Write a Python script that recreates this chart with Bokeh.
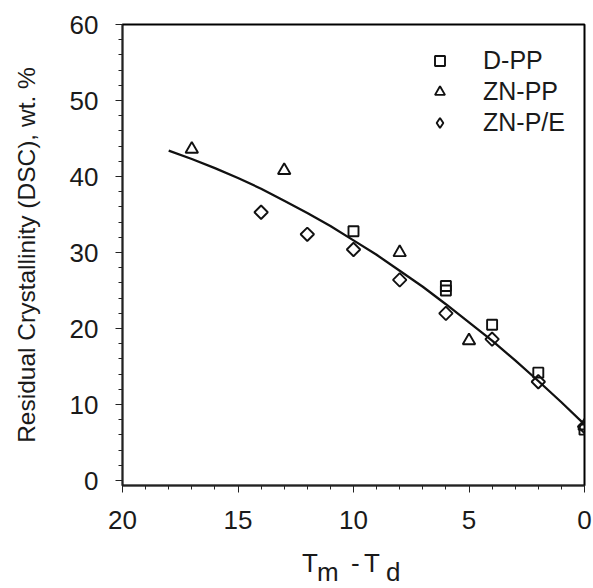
import math
from bokeh.plotting import figure
from bokeh.layouts import column
from bokeh.models import Range1d, FixedTicker, Legend, LegendItem, Div
from bokeh.embed import file_html
from bokeh.resources import INLINE

# ---- data ----
dpp_x = [10, 6, 6, 4, 2, 0]
dpp_y = [32.8, 25.6, 25.0, 20.5, 14.2, 6.7]

znpp_x = [17, 13, 8, 5, 0]
znpp_y = [43.6, 40.8, 30.0, 18.4, 7.2]

znpe_x = [14, 12, 10, 8, 6, 4, 2, 0]
znpe_y = [35.3, 32.4, 30.4, 26.4, 22.0, 18.6, 13.0, 7.1]

fit_x = [18, 17, 16, 15, 14, 13, 12, 11, 10, 9, 8, 7, 6, 5, 4, 3, 2, 1, 0]
fit_y = [43.4, 42.3, 41.1, 39.8, 38.4, 36.8, 35.2, 33.5, 31.6, 29.7, 27.6,
         25.5, 23.2, 20.8, 18.4, 15.8, 13.1, 10.3, 7.4]

x_major = [0, 5, 10, 15, 20]
x_minor = [v for v in range(0, 21) if v % 5 != 0]
y_major = [0, 10, 20, 30, 40, 50, 60]
y_minor = [v for v in range(0, 61, 2) if v % 10 != 0]

series_names = ["D-PP", "ZN-PP", "ZN-P/E"]
y_title = "Residual Crystallinity (DSC), wt. %"
x_title_parts = ["T", "m", "-", "T", "d"]

FONT = "Liberation Sans"
TXT = "#1a1a1a"
INK = "#111111"

p = figure(width=593, height=548, output_backend="svg", toolbar_location=None,
           x_range=Range1d(20, 0), y_range=Range1d(-0.65, 60),
           min_border_left=122, min_border_right=9, min_border_top=24,
           min_border_bottom=63)
p.background_fill_color = "white"
p.border_fill_color = "white"
p.outline_line_color = "black"
p.outline_line_width = 2
p.xgrid.visible = False
p.ygrid.visible = False

for ax in (p.xaxis[0], p.yaxis[0]):
    ax.axis_line_color = "#222222"
    ax.axis_line_width = 1.3
    ax.major_tick_line_color = "#222222"
    ax.minor_tick_line_color = "#222222"
    ax.major_tick_in = 0
    ax.major_tick_out = 7
    ax.minor_tick_in = 0
    ax.minor_tick_out = 4
    ax.major_label_text_font = FONT
    ax.major_label_text_font_size = "26px"
    ax.major_label_text_color = TXT

p.xaxis[0].ticker = FixedTicker(ticks=x_major, minor_ticks=x_minor)
p.yaxis[0].ticker = FixedTicker(ticks=y_major, minor_ticks=y_minor)
p.xaxis[0].major_label_standoff = 18
p.yaxis[0].major_label_standoff = 17

p.yaxis[0].axis_label = y_title
p.yaxis[0].axis_label_text_font = FONT
p.yaxis[0].axis_label_text_font_size = "24.5px"
p.yaxis[0].axis_label_text_font_style = "normal"
p.yaxis[0].axis_label_text_color = TXT
p.yaxis[0].axis_label_standoff = 27

# fit curve
p.line(fit_x, fit_y, line_color=INK, line_width=2.3)

# markers
r_sq = p.scatter(dpp_x, dpp_y, marker="square", size=10, fill_color=None,
                 line_color=INK, line_width=1.9)
r_tr = p.scatter(znpp_x, znpp_y, marker="triangle", size=12.5, fill_color=None,
                 line_color=INK, line_width=1.9)
p.scatter(znpe_x, znpe_y, marker="square", angle=math.pi / 4, size=9.5,
          fill_color=None, line_color=INK, line_width=1.9)

# legend glyph for the diamonds (legend glyphs ignore angle): same data on a
# range that keeps it outside the frame, so only its legend symbol shows
p.extra_y_ranges = {"legend_only": Range1d(1000, 2000)}
r_di_leg = p.scatter(znpe_x, znpe_y, marker="diamond", size=10,
                     fill_color=None, line_color=INK, line_width=1.9,
                     y_range_name="legend_only")

legend = Legend(items=[LegendItem(label=series_names[0], renderers=[r_sq]),
                       LegendItem(label=series_names[1], renderers=[r_tr]),
                       LegendItem(label=series_names[2], renderers=[r_di_leg])],
                location=(305, 348))
legend.border_line_color = None
legend.background_fill_alpha = 0
legend.padding = 0
legend.margin = 0
legend.spacing = 2
legend.glyph_width = 25
legend.glyph_height = 29
legend.label_height = 29
legend.label_standoff = 31
legend.label_text_font = FONT
legend.label_text_font_size = "25px"
legend.label_text_color = TXT
p.add_layout(legend, "center")

# x-axis title strip: T_m - T_d (subscripts same size, set lower)
piece_left = [302, 317, 351, 364, 386]
piece_top = [5, 14, 5, 5, 14]
spans = "".join(
    f'<span style="position:absolute;left:{l}px;top:{t}px;">{s}</span>'
    for s, l, t in zip(x_title_parts, piece_left, piece_top))
html = (f'<div style="position:relative;width:593px;height:40px;'
        f"font-family:'{FONT}',sans-serif;font-size:26px;line-height:20px;"
        f'color:{TXT};white-space:pre;">{spans}</div>')
title_div = Div(text=html, width=593, height=40, margin=(0, 0, 0, 0))

layout = column(p, title_div, spacing=0)
open("out.html", "w").write(file_html(layout, INLINE))
